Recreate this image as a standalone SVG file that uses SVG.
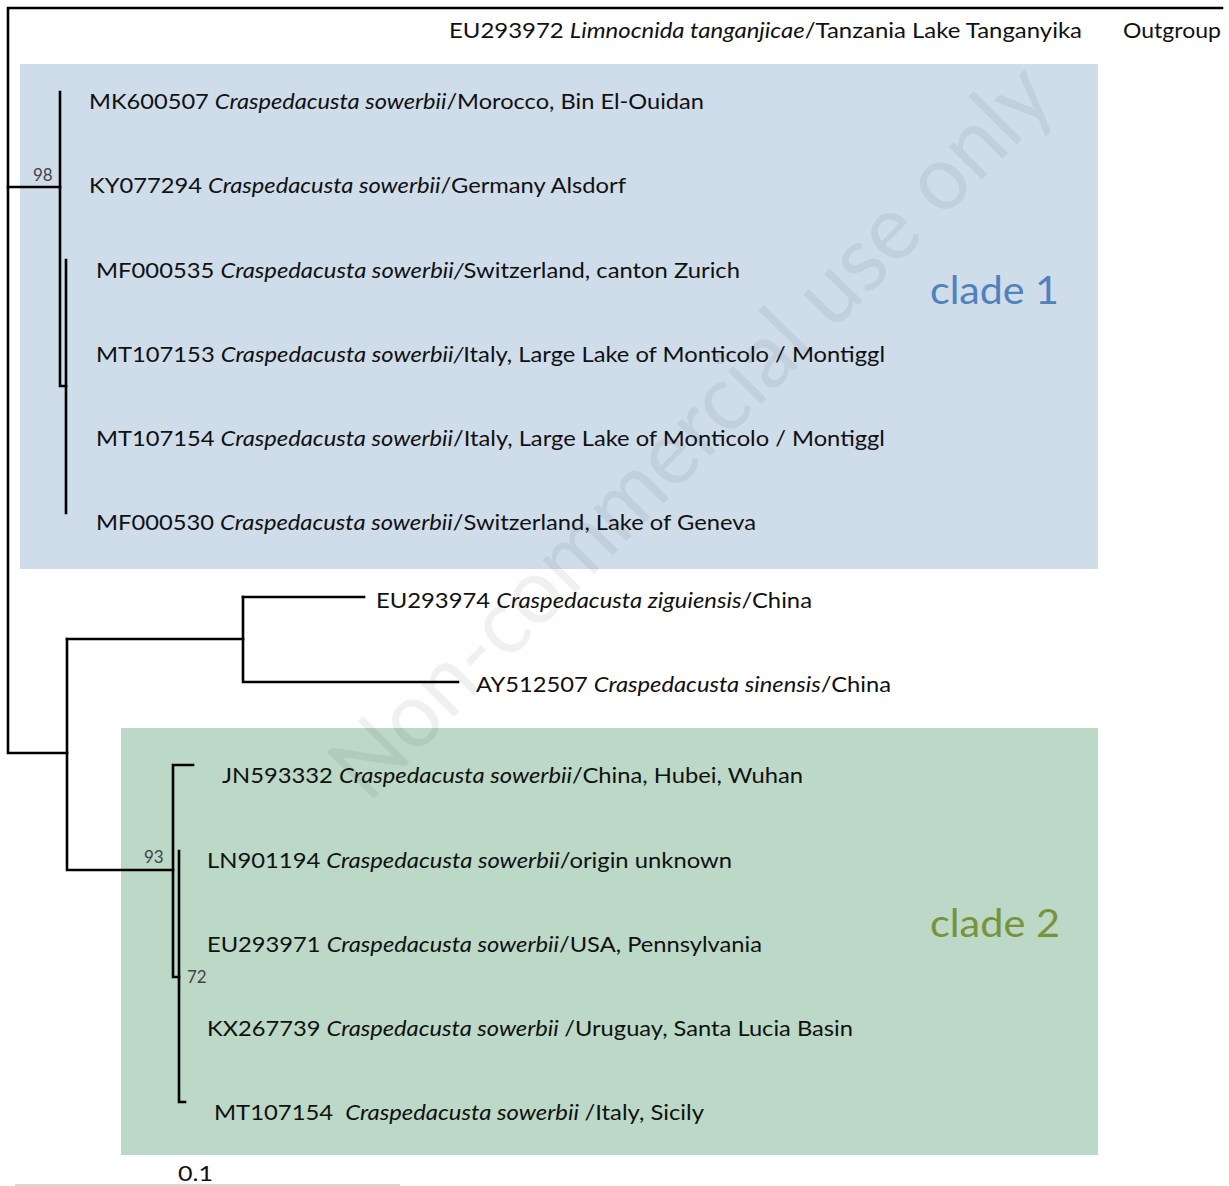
<svg xmlns="http://www.w3.org/2000/svg" width="1229" height="1186" viewBox="0 0 1229 1186">
<style>
.lbl{font-family:Lato,"Liberation Sans",sans-serif;font-size:22px;fill:#111}
.it{font-style:italic}
.bs{font-family:Lato,"Liberation Sans",sans-serif;font-size:17px;fill:#444}
.br{fill:none;stroke:#000;stroke-width:2.6;stroke-linecap:square}
.clade{font-family:Lato,"Liberation Sans",sans-serif;font-size:38px}
</style>
<rect width="1229" height="1186" fill="#fff"/>
<g id="clade1-box"><rect x="20" y="64" width="1078" height="505" fill="#cfdcea"/></g>
<g id="clade2-box"><rect x="121" y="728" width="977" height="427" fill="#bcd8c6"/></g>
<g id="watermark"><text x="0" y="0" transform="translate(688,428) rotate(-45.5)" text-anchor="middle" dominant-baseline="central" font-family="Lato,'Liberation Sans',sans-serif" font-size="92" fill="#000" fill-opacity="0.06" textLength="985" lengthAdjust="spacingAndGlyphs">Non-commercial use only</text></g>
<g id="connectors">
<path class="br" d="M1222,8 H8 V753 H67"/>
<path class="br" d="M8,187 H60"/>
<path class="br" d="M60,92 V386 H66"/>
<path class="br" d="M66,260 V513"/>
<path class="br" d="M67,639 V870 H173"/>
<path class="br" d="M67,639 H243"/>
<path class="br" d="M243,597 V682 H458"/>
<path class="br" d="M243,597 H364"/>
<path class="br" d="M193,765 H173 V977 H179"/>
<path class="br" d="M179,851 V1102 H185"/>
<path d="M15,1185 H400" stroke="#ccc" stroke-width="1.5"/>
</g>
<g id="bootstrap">
<text class="bs" x="33" y="181">98</text>
<text class="bs" x="144" y="863">93</text>
<text class="bs" x="187" y="983">72</text>
</g>
<g id="tip-EU293972"><text class="lbl" x="449" y="38" textLength="633" lengthAdjust="spacingAndGlyphs">EU293972 <tspan class="it">Limnocnida tanganjicae</tspan>/Tanzania Lake Tanganyika</text></g>
<g id="outgroup-label"><text class="lbl" x="1123" y="38" textLength="98" lengthAdjust="spacingAndGlyphs">Outgroup</text></g>
<g id="tip-MK600507"><text class="lbl" x="89" y="109" textLength="615" lengthAdjust="spacingAndGlyphs">MK600507 <tspan class="it">Craspedacusta sowerbii</tspan>/Morocco, Bin El-Ouidan</text></g>
<g id="tip-KY077294"><text class="lbl" x="89" y="193" textLength="537" lengthAdjust="spacingAndGlyphs">KY077294 <tspan class="it">Craspedacusta sowerbii</tspan>/Germany Alsdorf</text></g>
<g id="tip-MF000535"><text class="lbl" x="96" y="278" textLength="644" lengthAdjust="spacingAndGlyphs">MF000535 <tspan class="it">Craspedacusta sowerbii/</tspan>Switzerland, canton Zurich</text></g>
<g id="tip-MT107153"><text class="lbl" x="96" y="362" textLength="789" lengthAdjust="spacingAndGlyphs">MT107153 <tspan class="it">Craspedacusta sowerbii/</tspan>Italy, Large Lake of Monticolo / Montiggl</text></g>
<g id="tip-MT107154a"><text class="lbl" x="96" y="446" textLength="789" lengthAdjust="spacingAndGlyphs">MT107154 <tspan class="it">Craspedacusta sowerbii</tspan>/Italy, Large Lake of Monticolo / Montiggl</text></g>
<g id="tip-MF000530"><text class="lbl" x="96" y="530" textLength="660" lengthAdjust="spacingAndGlyphs">MF000530 <tspan class="it">Craspedacusta sowerbii</tspan>/Switzerland, Lake of Geneva</text></g>
<g id="clade1-label"><text class="clade" x="930" y="304" fill="#4f81bd" textLength="129" lengthAdjust="spacingAndGlyphs">clade 1</text></g>
<g id="tip-EU293974"><text class="lbl" x="376" y="608" textLength="436" lengthAdjust="spacingAndGlyphs">EU293974 <tspan class="it">Craspedacusta ziguiensis</tspan>/China</text></g>
<g id="tip-AY512507"><text class="lbl" x="476" y="692" textLength="415" lengthAdjust="spacingAndGlyphs">AY512507 <tspan class="it">Craspedacusta sinensis</tspan>/China</text></g>
<g id="tip-JN593332"><text class="lbl" x="222" y="783" textLength="581" lengthAdjust="spacingAndGlyphs">JN593332 <tspan class="it">Craspedacusta sowerbii</tspan>/China, Hubei, Wuhan</text></g>
<g id="tip-LN901194"><text class="lbl" x="207" y="868" textLength="525" lengthAdjust="spacingAndGlyphs">LN901194 <tspan class="it">Craspedacusta sowerbii</tspan>/origin unknown</text></g>
<g id="tip-EU293971"><text class="lbl" x="207" y="952" textLength="555" lengthAdjust="spacingAndGlyphs">EU293971 <tspan class="it">Craspedacusta sowerbii</tspan>/USA, Pennsylvania</text></g>
<g id="tip-KX267739"><text class="lbl" x="207" y="1036" textLength="646" lengthAdjust="spacingAndGlyphs">KX267739 <tspan class="it">Craspedacusta sowerbii </tspan>/Uruguay, Santa Lucia Basin</text></g>
<g id="tip-MT107154b"><text class="lbl" x="214" y="1120" textLength="490" lengthAdjust="spacingAndGlyphs" xml:space="preserve">MT107154  <tspan class="it">Craspedacusta sowerbii </tspan>/Italy, Sicily</text></g>
<g id="clade2-label"><text class="clade" x="930" y="937" fill="#77933c" textLength="130" lengthAdjust="spacingAndGlyphs">clade 2</text></g>
<g id="scale"><text class="lbl" x="178" y="1181" fill="#333" font-size="24" textLength="35" lengthAdjust="spacingAndGlyphs">0.1</text></g>
</svg>
